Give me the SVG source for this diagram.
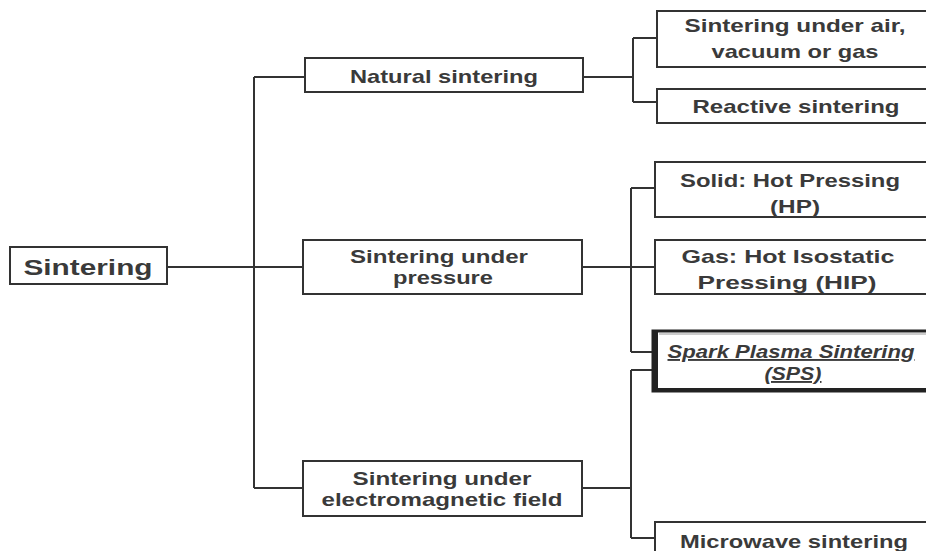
<svg xmlns="http://www.w3.org/2000/svg" width="926" height="551" viewBox="0 0 926 551">
<style>
.box{fill:#fff;stroke:#333;stroke-width:2}
.t{font-family:"Liberation Sans",Arial,sans-serif;font-weight:bold;font-size:19px;fill:#3a3a3a;text-anchor:middle}
.c{fill:none;stroke:#333;stroke-width:2}
</style>
<rect width="926" height="551" fill="#fff"/>
<g id="connectors">
<path class="c" d="M167 267H303M254 77V488M254 77H305M254 488H303"/>
<path class="c" d="M583 77H633M633 38V102M633 38H657M633 102H657"/>
<path class="c" d="M582 267H655M631 188V352M631 188H655M631 352H652"/>
<path class="c" d="M582 488H631M631 370V538M631 370H652M631 538H655"/>
</g>
<g id="sintering">
<rect class="box" x="10" y="247" width="157" height="37"/>
<text class="t" x="88" y="275" style="font-size:22px" textLength="129" lengthAdjust="spacingAndGlyphs">Sintering</text>
</g>
<g id="natural">
<rect class="box" x="305" y="58" width="278" height="34"/>
<text class="t" x="444" y="83" textLength="188" lengthAdjust="spacingAndGlyphs">Natural sintering</text>
</g>
<g id="air">
<rect class="box" x="657" y="11" width="290" height="56"/>
<text class="t" x="795" y="32" textLength="221" lengthAdjust="spacingAndGlyphs">Sintering under air,</text>
<text class="t" x="795" y="58" textLength="167" lengthAdjust="spacingAndGlyphs">vacuum or gas</text>
</g>
<g id="reactive">
<rect class="box" x="657" y="89" width="290" height="34"/>
<text class="t" x="796" y="113" textLength="207" lengthAdjust="spacingAndGlyphs">Reactive sintering</text>
</g>
<g id="pressure">
<rect class="box" x="303" y="240" width="279" height="54"/>
<text class="t" x="439" y="263" textLength="178" lengthAdjust="spacingAndGlyphs">Sintering under</text>
<text class="t" x="443" y="284" textLength="100" lengthAdjust="spacingAndGlyphs">pressure</text>
</g>
<g id="hp">
<rect class="box" x="655" y="162" width="290" height="55"/>
<text class="t" x="790" y="187" textLength="220" lengthAdjust="spacingAndGlyphs">Solid: Hot Pressing</text>
<text class="t" x="795" y="213" textLength="50" lengthAdjust="spacingAndGlyphs">(HP)</text>
</g>
<g id="hip">
<rect class="box" x="655" y="240" width="290" height="54"/>
<text class="t" x="788" y="263" textLength="213" lengthAdjust="spacingAndGlyphs">Gas: Hot Isostatic</text>
<text class="t" x="787" y="289" textLength="179" lengthAdjust="spacingAndGlyphs">Pressing (HIP)</text>
</g>
<g id="sps">
<rect x="653" y="331" width="290" height="60" fill="#fff" stroke="#222" stroke-width="3"/>
<rect x="652" y="330" width="6" height="62" fill="#222"/>
<rect x="652" y="388" width="290" height="4" fill="#222"/>
<line x1="659" y1="334" x2="940" y2="334" stroke="#999" stroke-width="1"/>
<text class="t" x="791" y="358" text-decoration="underline" style="font-style:italic" textLength="247" lengthAdjust="spacingAndGlyphs">Spark Plasma Sintering</text>
<text class="t" x="793" y="380" text-decoration="underline" style="font-style:italic" textLength="57" lengthAdjust="spacingAndGlyphs">(SPS)</text>
</g>
<g id="em">
<rect class="box" x="303" y="461" width="279" height="55"/>
<text class="t" x="442" y="485" textLength="179" lengthAdjust="spacingAndGlyphs">Sintering under</text>
<text class="t" x="442" y="506" textLength="241" lengthAdjust="spacingAndGlyphs">electromagnetic field</text>
</g>
<g id="microwave">
<rect class="box" x="655" y="522" width="290" height="40"/>
<text class="t" x="794" y="548" textLength="228" lengthAdjust="spacingAndGlyphs">Microwave sintering</text>
</g>
</svg>
